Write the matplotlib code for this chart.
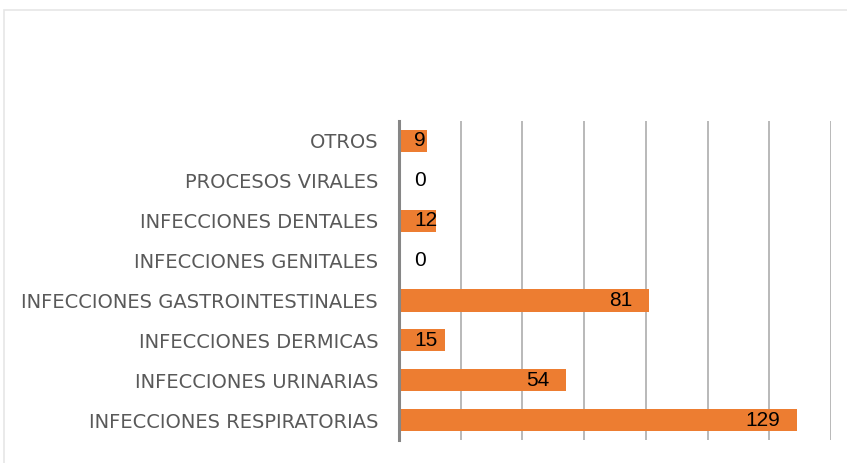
import matplotlib.pyplot as plt
from matplotlib.patches import Rectangle

categorias = ["INFECCIONES RESPIRATORIAS", "INFECCIONES URINARIAS", "INFECCIONES DERMICAS",
              "INFECCIONES GASTROINTESTINALES", "INFECCIONES GENITALES", "INFECCIONES DENTALES",
              "PROCESOS VIRALES", "OTROS"]
casos = [129, 54, 15, 81, 0, 12, 0, 9]

W, H = 847, 463
fig = plt.figure(figsize=(W / 100, H / 100), dpi=100)
# borde del area del grafico
fig.patches.append(Rectangle((4 / W, -0.05), 1, 1.05 - 10 / H, transform=fig.transFigure,
                             fill=False, edgecolor="#e6e6e6", lw=1.2))

ax = fig.add_axes([399 / W, 1 - 440 / H, (831 - 399) / W, (440 - 121) / H])
y = range(len(categorias))
ax.barh(y, casos, height=0.56, color="#ED7D31", zorder=2)
ax.set_xlim(0, 140)
ax.set_ylim(-0.5, len(categorias) - 0.5)
ax.set_xticks(range(20, 141, 20))
ax.set_xticklabels([])
ax.tick_params(axis="x", length=0)
ax.grid(axis="x", color="#b3b3b3", lw=1.3, zorder=0)
ax.set_yticks(list(y))
ax.set_yticklabels(categorias, family="DejaVu Sans", fontsize=14, color="#595959")
ax.tick_params(axis="y", length=0, pad=15)
for s in ["top", "right", "bottom"]:
    ax.spines[s].set_visible(False)
ax.spines["left"].set_color("#868686")
ax.spines["left"].set_linewidth(2.2)
ax.spines["left"].set_zorder(3)

fuente = ["Liberation Sans", "DejaVu Sans"]
for i, v in enumerate(casos):
    if v < 20:
        ax.annotate(str(v), (0, i), xytext=(11, 0), textcoords="offset points",
                    ha="left", va="center", fontsize=15, color="black",
                    family=fuente, zorder=4)
    else:
        ax.annotate(str(v), (v, i), xytext=(-12, 0), textcoords="offset points",
                    ha="right", va="center", fontsize=15, color="black",
                    family=fuente, zorder=4)

fig.savefig("out.png", dpi=100)
